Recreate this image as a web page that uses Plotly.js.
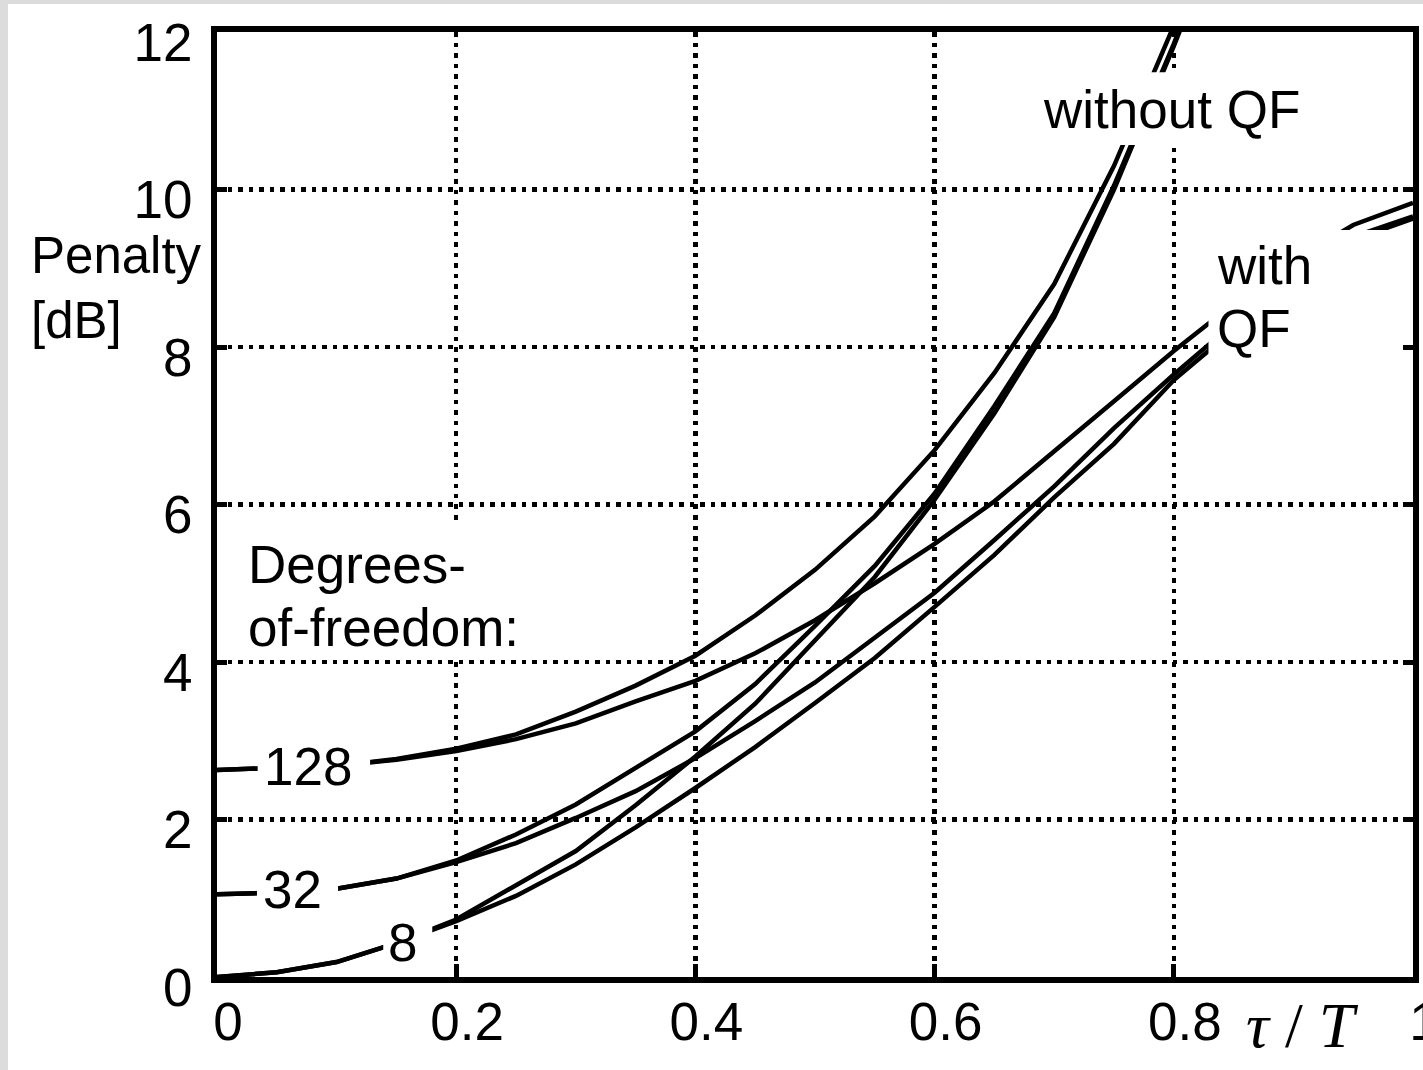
<!DOCTYPE html>
<html>
<head>
<meta charset="utf-8">
<script src="https://cdn.plot.ly/plotly-3.0.1.min.js"></script>
<style>
html,body{margin:0;padding:0;background:#dcdcdc;overflow:hidden;width:1423px;height:1070px}
#chart{position:absolute;left:8px;top:4px;width:1415px;height:1066px;background:#fff}
</style>
</head>
<body>
<div id="chart"></div>
<script>
// tau/T sample points
const tau = [0,0.05,0.1,0.15,0.2,0.25,0.3,0.35,0.4,0.45,0.5,0.55,0.6,0.65,0.7,0.75,0.8,0.85,0.9,0.95,1.0];

// Penalty [dB] without quadratic filter (QF)
const without128 = [2.63,2.65,2.68,2.77,2.90,3.08,3.37,3.70,4.08,4.59,5.17,5.85,6.69,7.67,8.80,10.30,12.08];
const without32  = [1.05,1.07,1.12,1.25,1.48,1.81,2.19,2.66,3.12,3.72,4.46,5.22,6.14,7.25,8.43,10.05,11.85,13.80];
const without8   = [0,0.06,0.19,0.43,0.73,1.16,1.60,2.18,2.80,3.47,4.28,5.08,6.06,7.16,8.38,10.00,11.82,13.75];

// Penalty [dB] with QF
const with128 = [2.63,2.65,2.68,2.76,2.87,3.02,3.22,3.50,3.76,4.11,4.53,5.00,5.50,6.04,6.67,7.31,7.95,8.55,9.10,9.55,9.83];
const with32  = [1.05,1.07,1.12,1.25,1.46,1.70,2.02,2.36,2.78,3.25,3.74,4.31,4.88,5.55,6.23,6.97,7.65,8.30,8.90,9.40,9.66];
const with8   = [0,0.06,0.19,0.43,0.71,1.03,1.43,1.90,2.40,2.92,3.48,4.05,4.70,5.36,6.09,6.77,7.58,8.22,8.84,9.36,9.63];

const xTickVals = [0,0.2,0.4,0.6,0.8,1];
const xTickText = ['0','0.2','0.4','0.6','0.8','1'];
const yTickVals = [0,2,4,6,8,10,12];
const yTickText = ['0','2','4','6','8','10','12'];

const series = [without128, without32, without8, with128, with32, with8];
const traces = series.map(s => ({
  x: tau.slice(0, s.length),
  y: s,
  mode: 'lines',
  line: {color: '#000', width: 4.5},
  hoverinfo: 'skip'
}));

const FONT = 'Liberation Sans, Arial, Helvetica, sans-serif';
const FS = 53;
const white = (x0,x1,y0,y1) => ({type:'rect', xref:'x', yref:'y', x0, x1, y0, y1,
  fillcolor:'#fff', line:{width:0}, layer:'above'});
const note = (text, x, y, xanchor, ref, size) => ({text, x, y, xref: ref ? 'paper' : 'x', yref: ref ? 'paper' : 'y',
  xanchor, yanchor:'middle', align:'left', showarrow:false, font:{size: size || FS}});

const layout = {
  width: 1415, height: 1066,
  margin: {l:209, r:10, t:28, b:93, pad:0},
  paper_bgcolor: '#fff', plot_bgcolor: '#fff',
  showlegend: false,
  font: {family: FONT, color: '#000', size: FS},
  xaxis: {
    range: [0,1], tickmode:'array', tickvals: xTickVals, ticktext: xTickText,
    showgrid: true, gridcolor:'#000', gridwidth: 4.5, griddash: '4.5px,6px',
    zeroline: false, showline: true, linecolor:'#000', linewidth: 6, mirror: true,
    ticks: 'inside', ticklen: 13, tickwidth: 5, tickcolor: '#000',
    tickfont: {family: FONT, size: FS, color:'#000'},
    ticklabelshift: 11, ticklabelstandoff: -7, ticklabeloverflow: 'allow'
  },
  yaxis: {
    range: [0,12], tickmode:'array', tickvals: yTickVals, ticktext: yTickText,
    showgrid: true, gridcolor:'#000', gridwidth: 4.5, griddash: '4.5px,6px',
    zeroline: false, showline: true, linecolor:'#000', linewidth: 6, mirror: 'ticks',
    ticks: 'inside', ticklen: 10, tickwidth: 5, tickcolor: '#000',
    tickfont: {family: FONT, size: FS, color:'#000'},
    ticklabelshift: 10, ticklabelstandoff: 8, ticklabeloverflow: 'allow'
  },
  shapes: [
    white(0.688, 0.910, 10.565, 11.49),   // without QF
    white(0.829, 0.990, 7.835, 9.486),    // with QF
    white(0.034, 0.128, 2.25, 3.01),      // 128
    white(0.0334, 0.1012, 0.72, 1.49),    // 32
    white(0.139, 0.180, 0.152, 0.787),    // 8
    white(0.019, 0.2575, 4.06, 5.78)      // Degrees-of-freedom
  ],
  annotations: [
    note('Penalty', -0.1572, 0.763, 'left', true, 51),
    note('[dB]', -0.1572, 0.6952, 'left', true, 51),
    note('Degrees-', 0.0242, 5.244, 'left'),
    note('of-freedom:', 0.0242, 4.432, 'left'),
    note('128', 0.0761, 2.667, 'center'),
    note('32', 0.0635, 1.105, 'center'),
    note('8', 0.1547, 0.432, 'center'),
    note('without QF', 0.7977, 11.01, 'center'),
    note('with', 0.8344, 9.029, 'left'),
    note('QF', 0.8344, 8.229, 'left'),
    {text:'<i>τ</i> / <i>T</i>', x:0.908, y:-0.0508, xref:'paper', yref:'paper', xanchor:'center', yanchor:'middle',
     showarrow:false, font:{size:64, family:'Liberation Serif, Times New Roman, serif'}}
  ]
};

Plotly.newPlot('chart', traces, layout, {staticPlot: true, displayModeBar: false});
</script>
</body>
</html>
